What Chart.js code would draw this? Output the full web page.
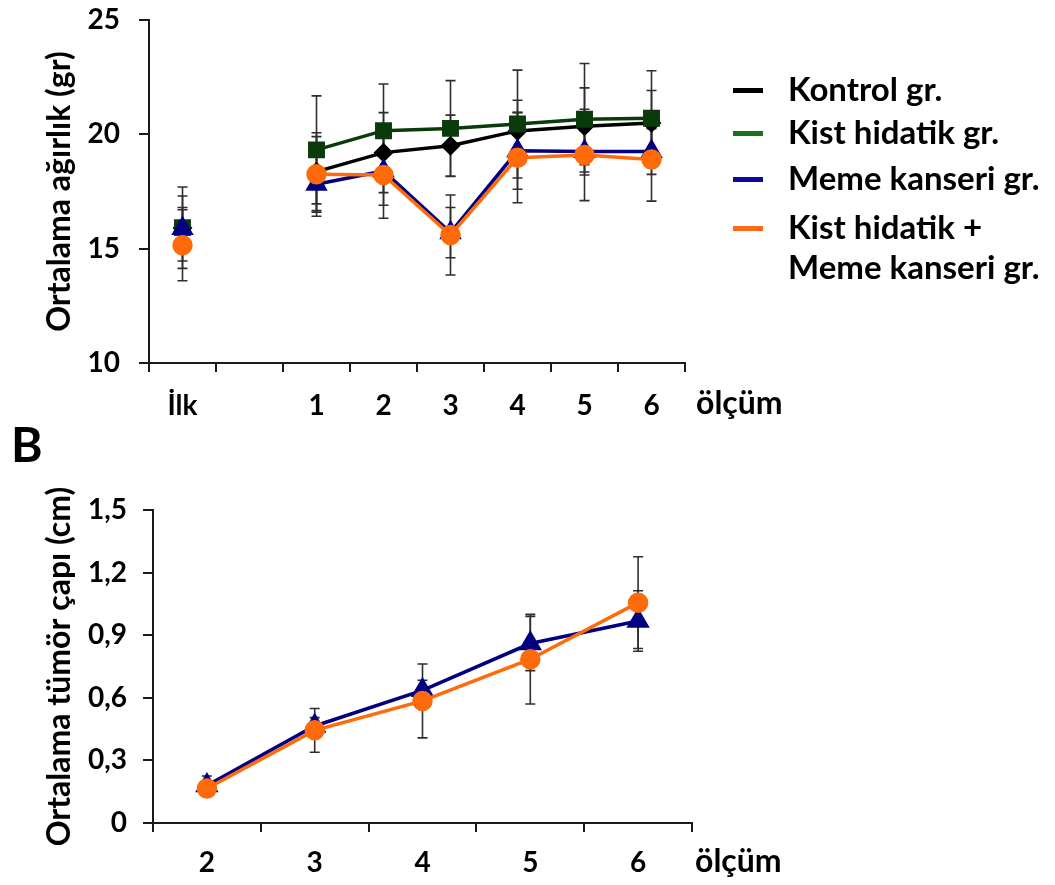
<!DOCTYPE html>
<html>
<head>
<meta charset="utf-8">
<script src="https://cdn.jsdelivr.net/npm/chart.js@4.4.0/dist/chart.umd.min.js"></script>
<style>
  html, body { margin:0; padding:0; background:#fff; width:1055px; height:885px; overflow:hidden; }
  #wrap { position:relative; width:1055px; height:885px; font-family:Lato, sans-serif; }
  #c1 { position:absolute; left:0; top:0; }
  #c2 { position:absolute; left:0; top:430px; }
  #panelB { position:absolute; left:11px; top:420px; font:bold 48px/48px Lato, sans-serif; color:#000; }
  .lrow { position:absolute; left:733px; display:flex; align-items:flex-start; white-space:nowrap;
          font:bold 33px/40px Lato, sans-serif; color:#000; }
  .lsw { width:30px; height:5px; margin-top:19.5px; margin-right:25px; flex:none; }
</style>
</head>
<body>
<div id="wrap">
  <canvas id="c1" width="1055" height="430"></canvas>
  <canvas id="c2" width="1055" height="455"></canvas>
  <div id="panelB">B</div>
  <div id="legend"></div>
</div>
<script>
// ---------- DATA ----------
const topCategories = ['İlk', '', '1', '2', '3', '4', '5', '6'];
const kontrolMean   = [15.90, null, 18.37, 19.20, 19.50, 20.15, 20.35, 20.50];
const kontrolErr    = [0.90,  null, 1.70,  1.75,  1.34,  1.34,  1.68,  1.42];
const kistMean      = [15.92, null, 19.32, 20.16, 20.26, 20.45, 20.66, 20.70];
const kistErr       = [1.78,  null, 2.36,  2.04,  2.09,  2.36,  2.44,  2.08];
const memeMean      = [15.88, null, 17.82, 18.40, 15.70, 19.28, 19.25, 19.25];
const memeErr       = [1.42,  null, 1.40,  1.50,  1.10,  1.68,  0.90,  1.00];
const kistMemeMean  = [15.15, null, 18.25, 18.22, 15.60, 18.98, 19.10, 18.90];
const kistMemeErr   = [1.55,  null, 1.65,  1.89,  1.75,  1.97,  2.00,  1.82];
const topYTicks     = [10, 15, 20, 25];

const bottomCategories = ['2', '3', '4', '5', '6'];
const memeTumor        = [0.180, 0.465, 0.636, 0.860, 0.968];
const memeTumorErr     = [0.045, 0.040, 0.048, 0.130, 0.145];
const kistMemeTumor    = [0.165, 0.444, 0.585, 0.785, 1.056];
const kistMemeTumorErr = [0.030, 0.105, 0.177, 0.215, 0.220];
const bottomYTicks     = [0, 0.3, 0.6, 0.9, 1.2, 1.5];

const seriesNames = ['Kontrol gr.', 'Kist hidatik gr.', 'Meme kanseri gr.', ['Kist hidatik +', 'Meme kanseri gr.']];
const xEndLabel = 'ölçüm';

// ---------- PLUGINS ----------
const errorBars = {
  id: 'errorBars',
  beforeDatasetsDraw(chart, args, opts) {
    const ctx = chart.ctx, ys = chart.scales.y;
    chart.data.datasets.forEach((ds, i) => {
      if (!ds.errors) return;
      const meta = chart.getDatasetMeta(i);
      meta.data.forEach((pt, j) => {
        const v = ds.data[j], e = ds.errors[j];
        if (v == null || e == null) return;
        const x = pt.x;
        const yt = ys.getPixelForValue(v + e), yb = ys.getPixelForValue(v - e);
        ctx.save();
        ctx.strokeStyle = opts.color; ctx.lineWidth = opts.width;
        ctx.beginPath();
        ctx.moveTo(x, yt); ctx.lineTo(x, yb);
        ctx.moveTo(x - opts.cap, yt); ctx.lineTo(x + opts.cap, yt);
        ctx.moveTo(x - opts.cap, yb); ctx.lineTo(x + opts.cap, yb);
        ctx.stroke();
        ctx.restore();
      });
    });
  }
};
const endLabel = {
  id: 'endLabel',
  afterDraw(chart, args, opts) {
    const ctx = chart.ctx, a = chart.chartArea;
    ctx.save();
    ctx.font = 'bold 32px Lato, sans-serif';
    ctx.fillStyle = '#000';
    ctx.textBaseline = 'middle';
    ctx.textAlign = 'left';
    ctx.fillText(opts.text, a.right + opts.dx, a.bottom + opts.dy);
    ctx.restore();
  }
};

function buildCharts() {
  Chart.defaults.font.family = 'Lato, sans-serif';
  Chart.defaults.color = '#000';

  const tickFont = { size: 28, weight: 'bold' };
  const titleFont = { size: 32, weight: 'bold' };
  const axisColor = '#1a1a1a';

  const top = new Chart(document.getElementById('c1'), {
    type: 'line',
    data: {
      labels: topCategories,
      datasets: [
        { label: seriesNames[0], data: kontrolMean, errors: kontrolErr, order: 3,
          borderColor: '#000000', backgroundColor: '#000000', pointBorderColor: '#000000',
          pointStyle: 'rectRot', pointRadius: 7.5, borderWidth: 3.5, legendColor: '#000000' },
        { label: seriesNames[1], data: kistMean, errors: kistErr, order: 2,
          borderColor: '#0b3a0b', backgroundColor: '#0b3a0b', pointBorderColor: '#0b3a0b',
          pointStyle: 'rect', pointRadius: 9.5, borderWidth: 3.5, legendColor: '#1b6f1b' },
        { label: seriesNames[2], data: memeMean, errors: memeErr, order: 1,
          borderColor: '#000080', backgroundColor: '#000080', pointBorderColor: '#000080',
          pointStyle: 'triangle', pointRadius: 9.5, borderWidth: 3.5, legendColor: '#0b0b9c' },
        { label: seriesNames[3], data: kistMemeMean, errors: kistMemeErr, order: 0,
          borderColor: '#ff6a0a', backgroundColor: '#ff6a0a', pointBorderColor: '#ff6a0a',
          pointStyle: 'circle', pointRadius: 8.5, borderWidth: 3.5, legendColor: '#ff6a1a' }
      ]
    },
    options: {
      responsive: false, animation: false,
      layout: { padding: { left: 40, right: 370, top: 20, bottom: 0 } },
      plugins: {
        legend: { display: false }, tooltip: { enabled: false },
        errorBars: { color: '#2e2e2e', width: 1.6, cap: 5 },
        endLabel: { text: xEndLabel, dx: 11, dy: 41 }
      },
      scales: {
        x: {
          type: 'category', offset: true,
          grid: { offset: true, drawOnChartArea: false, drawTicks: true, tickLength: 9, color: axisColor, lineWidth: 2 },
          border: { display: true, color: axisColor, width: 2 },
          ticks: { font: tickFont, color: '#000', padding: 17, maxRotation: 0, autoSkip: false },
          afterFit(s) { s.height = 67; }
        },
        y: {
          min: topYTicks[0], max: topYTicks[topYTicks.length - 1],
          afterBuildTicks(s) { s.ticks = topYTicks.map(v => ({ value: v })); },
          grid: { drawOnChartArea: false, drawTicks: true, tickLength: 10, color: axisColor, lineWidth: 2 },
          border: { display: true, color: axisColor, width: 2 },
          ticks: { font: tickFont, color: '#000', padding: 19 },
          title: { display: true, text: 'Ortalama ağırlık (gr)', font: titleFont, color: '#000', padding: 0 },
          afterFit(s) { s.width = 109; s.paddingTop = 0; s.paddingBottom = 0; }
        }
      }
    },
    plugins: [errorBars, endLabel]
  });

  const bottom = new Chart(document.getElementById('c2'), {
    type: 'line',
    data: {
      labels: bottomCategories,
      datasets: [
        { label: seriesNames[2], data: memeTumor, errors: memeTumorErr, order: 1,
          borderColor: '#000080', backgroundColor: '#000080', pointBorderColor: '#000080',
          pointStyle: 'triangle', pointRadius: 10, borderWidth: 3.5 },
        { label: seriesNames[3], data: kistMemeTumor, errors: kistMemeTumorErr, order: 0,
          borderColor: '#ff6a0a', backgroundColor: '#ff6a0a', pointBorderColor: '#ff6a0a',
          pointStyle: 'circle', pointRadius: 8.5, borderWidth: 3.5 }
      ]
    },
    options: {
      responsive: false, animation: false,
      layout: { padding: { left: 40, right: 363, top: 80, bottom: 0 } },
      plugins: {
        legend: { display: false }, tooltip: { enabled: false },
        errorBars: { color: '#2e2e2e', width: 1.6, cap: 5 },
        endLabel: { text: xEndLabel, dx: 3, dy: 39 }
      },
      scales: {
        x: {
          type: 'category', offset: true,
          grid: { offset: true, drawOnChartArea: false, drawTicks: true, tickLength: 9, color: axisColor, lineWidth: 2 },
          border: { display: true, color: axisColor, width: 2 },
          ticks: { font: tickFont, color: '#000', padding: 14, maxRotation: 0, autoSkip: false },
          afterFit(s) { s.height = 62; }
        },
        y: {
          min: bottomYTicks[0], max: bottomYTicks[bottomYTicks.length - 1],
          afterBuildTicks(s) { s.ticks = bottomYTicks.map(v => ({ value: v })); },
          grid: { drawOnChartArea: false, drawTicks: true, tickLength: 10, color: axisColor, lineWidth: 2 },
          border: { display: true, color: axisColor, width: 2 },
          ticks: { font: tickFont, color: '#000', padding: 16,
                   callback: v => (v === 0 ? '0' : Number(v).toFixed(1).replace('.', ',')) },
          title: { display: true, text: 'Ortalama tümör çapı (cm)', font: titleFont, color: '#000', padding: 0 },
          afterFit(s) { s.width = 113; s.paddingTop = 0; s.paddingBottom = 0; }
        }
      }
    },
    plugins: [errorBars, endLabel]
  });

  // HTML legend built from the top chart's datasets
  const legendTops = [68, 111, 157, 206];
  const leg = document.getElementById('legend');
  top.data.datasets.forEach((ds, i) => {
    const row = document.createElement('div');
    row.className = 'lrow';
    row.style.top = legendTops[i] + 'px';
    const sw = document.createElement('div');
    sw.className = 'lsw';
    sw.style.background = ds.legendColor;
    const tx = document.createElement('div');
    const lines = Array.isArray(ds.label) ? ds.label : [ds.label];
    lines.forEach((l, k) => { if (k) tx.appendChild(document.createElement('br')); tx.appendChild(document.createTextNode(l)); });
    row.appendChild(sw); row.appendChild(tx);
    leg.appendChild(row);
  });
}

if (document.fonts && document.fonts.load) {
  Promise.all([document.fonts.load('bold 28px Lato'), document.fonts.load('bold 33px Lato')])
    .then(buildCharts, buildCharts);
} else {
  buildCharts();
}
</script>
</body>
</html>
